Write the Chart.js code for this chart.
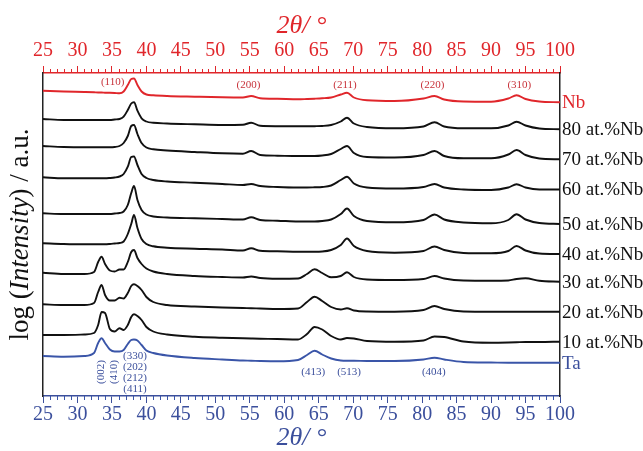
<!DOCTYPE html>
<html>
<head>
<meta charset="utf-8">
<script src="https://cdn.jsdelivr.net/npm/chart.js@4.4.1/dist/chart.umd.min.js"></script>
<style>
  html, body { margin: 0; padding: 0; background: #fff; }
</style>
</head>
<body>
<canvas id="xrd" width="643" height="451"></canvas>
<script>
// 2theta grid (deg) shared by all patterns
const twoTheta = [25, 28, 31, 32.4, 33, 33.5, 34, 34.7, 35.4, 36.1, 36.7, 37.3, 37.8, 38.2, 38.7, 39.3, 40, 41, 43, 47,
  51, 54, 55.2, 56.5, 59, 62, 63.3, 64.4, 65.5, 66.8, 68.2, 69.1, 70.1, 72, 76, 80.2, 81.8, 83.2, 86, 90,
  92.5, 93.7, 95, 97, 100];

// stacked log intensity, arbitrary offsets (a.u.)
const nb = [305.3, 304.5, 304, 303.7, 303.5, 303.5, 303.3, 303.2, 303, 302.7, 304.5, 311, 317, 317.5, 311, 304.5, 301.5, 300.7, 300, 299.3,
  298.7, 298.5, 300, 297.7, 297.2, 296.7, 297, 297.3, 297.7, 298.5, 301.5, 303.3, 298.5, 295.7, 295, 297.5, 300, 296.5, 294.5, 294.3,
  297.5, 300.7, 297, 294.5, 293.7];
const nb80 = [277, 276, 276, 276, 276, 276, 276, 276, 276.5, 277, 279.3, 286, 292.5, 293.7, 285.3, 277.7, 274.5, 273.2, 272.5, 271.7,
  271, 271.2, 273.3, 270.2, 269.8, 269.7, 269.7, 269.8, 270, 271, 274.5, 278.3, 272.5, 269, 267.7, 269.5, 273.7, 269.5, 267.7, 267.7,
  270.5, 274.3, 270.5, 267.5, 266.7];
const nb70 = [250, 249, 248.7, 248.7, 248.7, 248.7, 248.7, 248.7, 249, 250, 253, 260, 270, 271, 262, 253, 248.5, 246.7, 245.5, 244,
  242.7, 242.3, 245, 241, 240.3, 240, 240, 240, 240.5, 242, 247, 250, 243, 239, 238.5, 241, 245, 240, 237.7, 237.7,
  241.5, 246, 241, 237.5, 236.7];
const nb60 = [218.7, 217.7, 217.7, 217.7, 217.7, 217.7, 217.7, 218, 218.5, 219.5, 222, 229.3, 239, 239.5, 231, 222, 218, 216, 214.5, 213.3,
  212, 211, 212, 210, 209, 208.5, 208.5, 208.7, 209, 210.5, 216, 219.3, 212.5, 208.5, 207.5, 209, 212, 208.5, 206.5, 206,
  208.5, 211.7, 208.5, 206.5, 206.5];
const nb50 = [182.7, 182, 182, 182, 182, 182, 182, 182, 182.5, 183, 184.5, 191, 203, 210, 196, 186, 181.5, 179.5, 178.5, 177.7,
  177, 176.5, 178.7, 176, 175.3, 174.5, 174.5, 174.5, 175, 176.5, 182, 187.5, 180, 175, 173.7, 176, 181.5, 176.5, 173.5, 172.7,
  176, 181.7, 176.5, 173, 172];
const nb40 = [152.7, 152, 151.7, 151.7, 151.7, 151.7, 151.7, 152, 152.5, 153, 154.5, 162, 172, 181, 168, 157, 152, 149.7, 148.3, 147.3,
  146.5, 145.5, 147.7, 145.2, 144.7, 144.3, 144.3, 144.3, 144.5, 146, 151, 157.5, 150, 145, 143.3, 145, 149.5, 146, 143, 142.7,
  145, 150, 145.5, 142.5, 142];
const nb30 = [123.3, 122, 122, 124, 134, 139.3, 132, 125.5, 124.5, 126.5, 126.5, 134, 144, 146, 138, 132, 127.5, 124.5, 122, 120,
  119, 118.5, 119.5, 118, 117.3, 117.5, 122, 126.7, 123, 118.7, 120, 123.7, 119, 116.5, 116, 117, 120, 117.5, 115.5, 115.3,
  115.5, 117, 117.7, 115.3, 114.3];
const nb20 = [91.7, 91, 91, 93, 104, 111, 101, 95.5, 95.5, 98.3, 97.5, 103, 110, 111.7, 110, 106, 99, 94, 91, 89.5,
  88.5, 88, 87.7, 87.5, 87, 87.5, 94, 99.3, 95, 89, 86.5, 87.7, 85.5, 84.5, 84.3, 86, 90, 87, 84.5, 84.3,
  84.3, 84.3, 84.3, 84.3, 84.3];
const nb10 = [61, 61, 61.5, 63, 71, 84, 83, 67, 64.5, 67.7, 66, 71, 79, 81.7, 80, 76, 69, 64.5, 61.5, 59.3,
  58.3, 57.7, 57.5, 57.3, 57, 56.5, 62, 69, 66.5, 60, 56.5, 58, 57.5, 55, 54.3, 55.5, 59.5, 59, 54.5, 53.3,
  53.5, 53.7, 54, 54, 54.3];
const ta = [40, 39.3, 40, 43, 53, 57.7, 53, 46.5, 44.5, 44.5, 46, 52, 56, 56.5, 55.5, 51, 45.5, 43, 40.5, 38,
  36.5, 35.5, 35.3, 35, 34.7, 36, 41, 45.3, 41.5, 37.5, 35.5, 35.3, 35.3, 35, 35, 36.5, 38.3, 36.5, 34, 33.5,
  33.3, 33.3, 33.3, 33.3, 33.3];

const sampleNames = ['Nb', '80 at.%Nb', '70 at.%Nb', '60 at.%Nb', '50 at.%Nb', '40 at.%Nb', '30 at.%Nb', '20 at.%Nb', '10 at.%Nb', 'Ta'];
const patterns = [nb, nb80, nb70, nb60, nb50, nb40, nb30, nb20, nb10, ta];

// reflection labels
const nbHkl = ['(110)', '(200)', '(211)', '(220)', '(310)'];
const nbHklAt = [35.1, 54.8, 68.8, 81.5, 94.1];
const nbHklY = [314, 311, 311, 311, 311];
const taHkl = ['(413)', '(513)', '(404)'];
const taHklAt = [64.2, 69.4, 81.7];
const taStack = ['(330)', '(202)', '(212)', '(411)'];
const taStackAt = 38.35;
const taStackY = [40, 29, 18, 7];
const taVert = ['(002)', '(410)'];
const taVertAt = [33.4, 35.3];

const RED = '#e0262b';
const BLUE = '#3a55a8';
const BLUE_TXT = '#3b4f9c';
const SERIF = '"Liberation Serif", "DejaVu Serif", serif';

function colorFor(i) {
  if (i === 0) return RED;
  if (i === patterns.length - 1) return BLUE;
  return '#111';
}

const decor = {
  id: 'decor',
  afterDraw(chart) {
    const { ctx, chartArea: a } = chart;
    const x = chart.scales.x, y = chart.scales.y;
    ctx.save();

    // minor ticks every degree
    ctx.lineWidth = 1;
    for (let t = 26; t < 100; t++) {
      if (t % 5 === 0) continue;
      const px = Math.round(x.getPixelForValue(t)) + 0.5;
      ctx.strokeStyle = BLUE;
      ctx.beginPath(); ctx.moveTo(px, a.bottom); ctx.lineTo(px, a.bottom + 4); ctx.stroke();
      ctx.strokeStyle = RED;
      ctx.beginPath(); ctx.moveTo(px, a.top); ctx.lineTo(px, a.top - 4); ctx.stroke();
    }

    // sample names at the right end of each pattern
    ctx.font = '19px ' + SERIF;
    ctx.textAlign = 'left';
    ctx.textBaseline = 'middle';
    patterns.forEach((p, i) => {
      ctx.fillStyle = i === 0 ? RED : (i === patterns.length - 1 ? BLUE_TXT : '#111');
      ctx.fillText(sampleNames[i], a.right + 2, y.getPixelForValue(p[p.length - 1]) + 1);
    });

    // hkl labels
    ctx.font = '11px ' + SERIF;
    ctx.textAlign = 'center';
    ctx.fillStyle = '#c8323a';
    nbHkl.forEach((t, i) => ctx.fillText(t, x.getPixelForValue(nbHklAt[i]), y.getPixelForValue(nbHklY[i])));
    ctx.fillStyle = BLUE_TXT;
    taHkl.forEach((t, i) => ctx.fillText(t, x.getPixelForValue(taHklAt[i]), y.getPixelForValue(24)));
    taStack.forEach((t, i) => ctx.fillText(t, x.getPixelForValue(taStackAt), y.getPixelForValue(taStackY[i])));
    taVert.forEach((t, i) => {
      ctx.save();
      ctx.translate(x.getPixelForValue(taVertAt[i]), y.getPixelForValue(24));
      ctx.rotate(-Math.PI / 2);
      ctx.fillText(t, 0, 0);
      ctx.restore();
    });

    // y axis title with italic part
    const parts = [['log (', 'normal'], ['Intensity', 'italic'], [') / a.u.', 'normal']];
    ctx.fillStyle = '#111';
    ctx.textAlign = 'left';
    let total = 0;
    parts.forEach(p => { ctx.font = p[1] + ' 27px ' + SERIF; total += ctx.measureText(p[0]).width; });
    ctx.translate(21, (a.top + a.bottom) / 2);
    ctx.rotate(-Math.PI / 2);
    let cx = -total / 2;
    parts.forEach(p => {
      ctx.font = p[1] + ' 27px ' + SERIF;
      ctx.fillText(p[0], cx, 0);
      cx += ctx.measureText(p[0]).width;
    });
    ctx.restore();
  }
};

function xAxis(pos, color, height) {
  return {
    type: 'linear',
    position: pos,
    min: 25,
    max: 100,
    ticks: {
      stepSize: 5,
      autoSkip: false,
      maxRotation: 0,
      color: color,
      padding: pos === 'top' ? 5 : 2,
      font: { family: SERIF, size: 20, lineHeight: 1 }
    },
    grid: { drawOnChartArea: false, color: color, tickLength: 7, tickWidth: 1 },
    border: { color: color, width: 1.5 },
    title: {
      display: true,
      text: '2θ/ °',
      color: color,
      font: { family: SERIF, size: 26, style: 'italic', lineHeight: 1 },
      padding: pos === 'top' ? { top: 13, bottom: 0 } : { top: 0, bottom: 0 }
    },
    afterFit(s) { s.height = height; }
  };
}

function yAxis(pos, width) {
  return {
    type: 'linear',
    position: pos,
    min: 0,
    max: 323,
    ticks: { display: false },
    grid: { drawOnChartArea: false, drawTicks: false },
    border: { color: '#222', width: 1.5 },
    afterFit(s) { s.width = width; }
  };
}

new Chart(document.getElementById('xrd'), {
  type: 'line',
  data: {
    datasets: patterns.map((p, i) => ({
      label: sampleNames[i],
      data: twoTheta.map((t, k) => ({ x: t, y: p[k] })),
      borderColor: colorFor(i),
      borderWidth: 1.9,
      pointRadius: 0,
      cubicInterpolationMode: 'monotone',
      xAxisID: 'x',
      yAxisID: 'y'
    }))
  },
  options: {
    responsive: false,
    animation: false,
    devicePixelRatio: 1,
    layout: { padding: { left: 0, right: 83, top: 0, bottom: 0 } },
    plugins: { legend: { display: false }, tooltip: { enabled: false } },
    scales: {
      x: xAxis('bottom', BLUE_TXT, 55),
      x2: xAxis('top', RED, 73),
      y: yAxis('left', 43),
      y2: yAxis('right', 0)
    }
  },
  plugins: [decor]
});
</script>
</body>
</html>
